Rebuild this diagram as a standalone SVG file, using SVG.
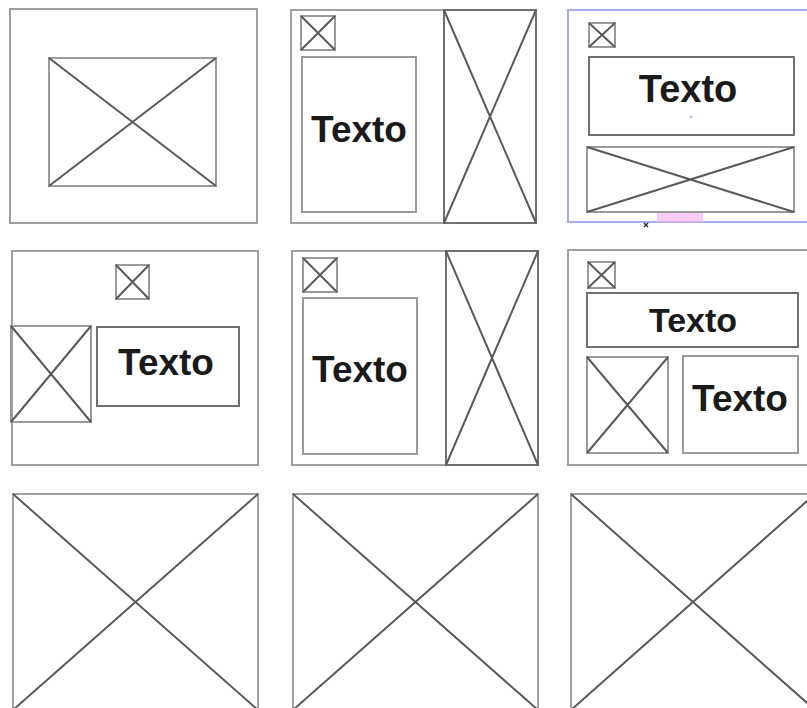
<svg xmlns="http://www.w3.org/2000/svg" width="807" height="708" viewBox="0 0 807 708">
<style>
.frame{fill:none;stroke:#a0a0a0;stroke-width:2}
.blue{fill:none;stroke:#a9a9f0;stroke-width:2}
.box{fill:none;stroke:#707070;stroke-width:2}
.lbox{fill:none;stroke:#9a9a9a;stroke-width:2}
.x{stroke:#5a5a5a;stroke-width:2;fill:none}
.t{font-family:"Liberation Sans",Arial,sans-serif;font-size:37px;font-weight:bold;fill:#1a1a1a;text-anchor:middle}
</style>
<rect width="807" height="708" fill="#ffffff"/>
<g id="panel1">
<rect class="frame" x="10" y="9" width="247" height="214"/>
<rect class="lbox" x="49" y="58" width="167" height="128"/>
<path class="x" d="M49,58L216,186M216,58L49,186"/>
</g>
<g id="panel2">
<rect class="frame" x="291" y="10" width="245" height="213"/>
<rect class="lbox" x="301" y="16" width="34" height="34"/>
<path class="x" d="M301,16L335,50M335,16L301,50"/>
<rect class="lbox" x="302" y="57" width="114" height="155"/>
<text class="t" x="359" y="142">Texto</text>
<rect class="box" x="444" y="10" width="92" height="213"/>
<path class="x" d="M444,10L536,223M536,10L444,223"/>
</g>
<g id="panel3">
<rect class="blue" x="568" y="10" width="250" height="212"/>
<rect class="lbox" x="589" y="23" width="26" height="24"/>
<path class="x" d="M589,23L615,47M615,23L589,47"/>
<rect class="box" x="589" y="57" width="205" height="78"/>
<text class="t" x="688" y="102" style="font-size:38px">Texto</text>
<circle cx="691" cy="117" r="1.5" fill="#c8b8f0"/>
<rect class="lbox" x="587" y="147" width="207" height="65"/>
<path class="x" d="M587,147L794,212M794,147L587,212"/>
<rect x="657" y="213" width="46" height="9" fill="#f5b5f5" opacity="0.7"/>
<path d="M644,223L648,227M648,223L644,227" stroke="#333" stroke-width="1.5"/>
</g>
<g id="panel4">
<rect class="frame" x="12" y="251" width="246" height="214"/>
<rect class="lbox" x="116" y="265" width="33" height="34"/>
<path class="x" d="M116,265L149,299M149,265L116,299"/>
<rect class="lbox" x="11" y="326" width="80" height="96"/>
<path class="x" d="M11,326L91,422M91,326L11,422"/>
<rect class="box" x="97" y="327" width="142" height="79"/>
<text class="t" x="166" y="375">Texto</text>
</g>
<g id="panel5">
<rect class="frame" x="292" y="251" width="246" height="214"/>
<rect class="lbox" x="303" y="258" width="34" height="34"/>
<path class="x" d="M303,258L337,292M337,258L303,292"/>
<rect class="lbox" x="303" y="298" width="114" height="156"/>
<text class="t" x="360" y="382">Texto</text>
<rect class="box" x="446" y="251" width="92" height="214"/>
<path class="x" d="M446,251L538,465M538,251L446,465"/>
</g>
<g id="panel6">
<rect class="frame" x="568" y="250" width="250" height="215"/>
<rect class="lbox" x="588" y="262" width="27" height="26"/>
<path class="x" d="M588,262L615,288M615,262L588,288"/>
<rect class="box" x="587" y="293" width="211" height="54"/>
<text class="t" x="693" y="332" style="font-size:34px">Texto</text>
<rect class="lbox" x="587" y="357" width="81" height="96"/>
<path class="x" d="M587,357L668,453M668,357L587,453"/>
<rect class="lbox" x="683" y="356" width="115" height="97"/>
<text class="t" x="740" y="411">Texto</text>
</g>
<g id="panel7">
<rect class="frame" x="13" y="494" width="245" height="216"/>
<path class="x" d="M13,494L258,710M258,494L13,710"/>
</g>
<g id="panel8">
<rect class="frame" x="293" y="494" width="245" height="216"/>
<path class="x" d="M293,494L538,710M538,494L293,710"/>
</g>
<g id="panel9">
<rect class="frame" x="571" y="494" width="244" height="216"/>
<path class="x" d="M571,494L815,710M815,494L571,710"/>
</g>
<g id="connectors"></g>
</svg>
